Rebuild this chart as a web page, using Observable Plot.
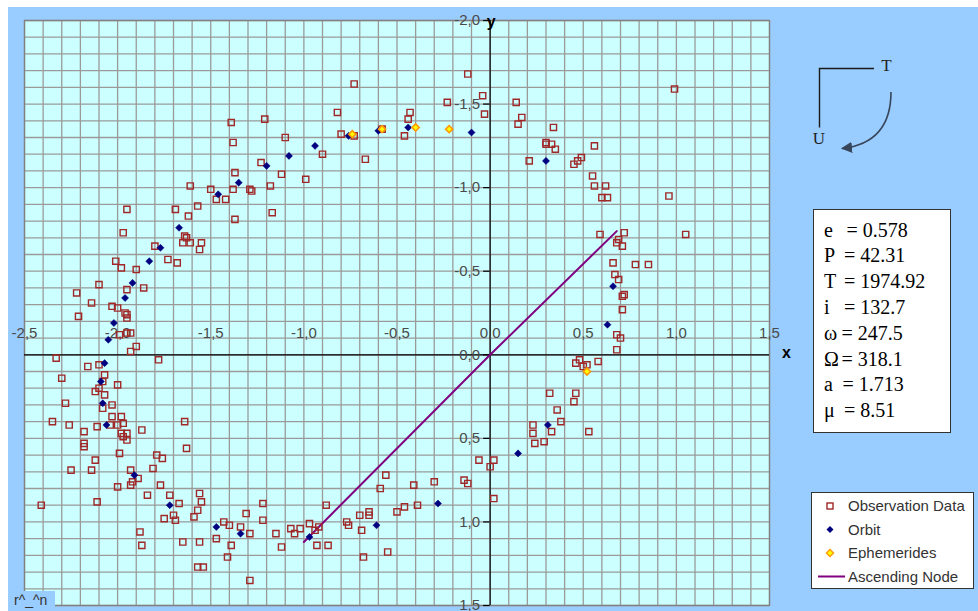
<!DOCTYPE html>
<html><head><meta charset="utf-8">
<script src="https://cdn.jsdelivr.net/npm/d3@7"></script>
<script src="https://cdn.jsdelivr.net/npm/@observablehq/plot@0.6"></script>
<style>
html,body{margin:0;padding:0;background:#fff;}
#bg{position:absolute;left:8px;top:7px;width:970px;height:604px;background:#99ccff;}
#chart{position:absolute;left:0;top:0;width:978px;height:611px;}
</style></head><body>
<div id="bg"></div>
<div id="chart"></div>
<script>
// ---- data ----
const observations = [
[-0.12,-1.68],[-0.73,-1.62],[-0.04,-1.55],[-0.23,-1.51],[-0.82,-1.45],[-0.43,-1.45],[-0.03,-1.44],[-1.39,-1.39],[-1.21,-1.41],[-0.44,-1.41],[-0.58,-1.35],[-0.80,-1.32],[-0.73,-1.31],[-0.46,-1.31],[-1.10,-1.30],[-1.38,-1.27],[-0.90,-1.20],[-0.67,-1.17],[-1.23,-1.15],[-1.37,-1.09],[-1.12,-1.08],[-0.99,-1.05],[-1.61,-1.01],[-1.50,-0.99],[-1.38,-0.99],[-1.29,-0.99],[-1.28,-0.98],[-1.18,-1.01],[-1.47,-0.93],[-1.42,-0.93],
[0.14,-1.51],[0.17,-1.42],[0.15,-1.38],[0.34,-1.36],[0.30,-1.27],[0.30,-1.26],[0.33,-1.26],[0.35,-1.23],[0.56,-1.25],[0.21,-1.16],[0.45,-1.14],[0.47,-1.16],[0.49,-1.18],[0.55,-1.07],[0.56,-1.01],[0.62,-1.01],[0.96,-0.95],[0.60,-0.94],[0.63,-0.94],[0.99,-1.59],
[-1.95,-0.87],[-1.69,-0.87],[-1.57,-0.89],[-1.17,-0.85],[-1.37,-0.81],[-1.62,-0.83],[-1.97,-0.73],[-1.64,-0.71],[-1.63,-0.70],[-1.65,-0.67],[-1.61,-0.67],[-1.55,-0.67],[-1.56,-0.63],[-1.80,-0.65],[-1.73,-0.57],[-1.68,-0.55],[-2.01,-0.56],[-1.98,-0.52],[-1.90,-0.51],[-2.10,-0.42],[-1.95,-0.39],[-1.86,-0.40],[-2.22,-0.37],[-2.14,-0.31],[-2.03,-0.29],[-2.00,-0.28],[-2.21,-0.23],[-1.96,-0.25],[-1.95,-0.24],[-1.95,-0.22],[-1.93,-0.13],[-1.95,-0.13],[-1.99,-0.12],[-1.90,-0.05],[-1.93,-0.02],[-2.33,0.02],[-1.78,0.03],[-2.16,0.07],[-2.10,0.06],[-2.30,0.14],[-2.07,0.12],[-2.00,0.18],[-2.08,0.16],[-2.10,0.20],[-2.12,0.22],[-2.07,0.24],
[-2.28,0.29],[-2.03,0.30],[-2.08,0.32],[-2.35,0.40],[-2.26,0.42],[-2.11,0.43],[-2.04,0.42],[-2.03,0.37],[-1.98,0.37],[-2.00,0.42],[-1.97,0.41],[-2.18,0.46],[-1.98,0.47],[-1.97,0.49],[-1.95,0.47],[-1.95,0.51],[-1.87,0.45],[-1.64,0.40],[-2.18,0.53],[-2.18,0.55],[-1.63,0.56],[-1.99,0.59],[-1.79,0.60],[-1.76,0.62],[-2.12,0.63],[-2.25,0.69],[-2.14,0.69],[-1.93,0.69],[-1.81,0.68],[-1.89,0.74],[-1.92,0.76],[-1.93,0.78],[-1.77,0.78],[-2.00,0.79],[-1.84,0.84],[-1.72,0.84],[-1.56,0.83],[-1.55,0.88],[-2.11,0.88],[-2.41,0.90],[-1.67,0.89],[-1.70,0.96],[-1.69,0.99],[-1.75,0.98],[-1.59,0.97],[-1.57,0.93],[-1.22,0.89],[-1.31,0.95],[-1.22,0.99],[-1.43,1.00],[-1.40,1.02],[-1.34,1.03],[-1.29,1.07],[-1.47,1.10],[-1.88,1.06],[-1.87,1.14],[-1.65,1.12],[-1.56,1.12],[-1.39,1.14],[-1.41,1.21],[-1.57,1.27],[-1.54,1.27],[-1.29,1.35],[-1.15,1.07],[-1.12,1.15],[-1.07,1.04],[-1.05,1.07],[-1.02,1.04],[-0.97,1.01],[-0.94,1.05],[-0.92,1.03],[-0.93,1.14],[-0.87,1.14],[-0.88,0.90],[-0.77,1.00],[-0.76,1.02],[-0.70,0.96],[-0.65,0.94],[-0.65,0.96],[-0.69,1.05],[-0.68,1.21],[-0.55,1.18],[-0.59,0.80],[-0.56,0.72],[-0.50,0.94],[-0.46,0.91],[-0.39,0.90],[-0.41,0.78],[-0.30,0.76],[-0.14,0.75],[-0.12,0.77],[-0.06,0.63],[0.00,0.67],[0.02,0.63],[0.02,0.86],
[0.59,-0.72],[0.72,-0.73],[0.69,-0.69],[0.68,-0.67],[0.71,-0.65],[1.05,-0.72],[0.66,-0.55],[0.78,-0.54],[0.85,-0.54],[0.67,-0.48],[0.69,-0.45],[0.72,-0.36],[0.71,-0.35],[0.71,-0.27],[0.68,-0.12],[0.70,-0.10],[0.68,-0.03],[0.48,0.03],[0.46,0.05],[0.50,0.07],[0.52,0.06],[0.58,0.04],[0.32,0.23],[0.46,0.23],[0.45,0.28],[0.36,0.33],[0.38,0.40],[0.23,0.42],[0.23,0.47],[0.33,0.46],[0.53,0.46],[0.24,0.53],[0.29,0.52]
];
const orbit = [
[-0.10,-1.33],[-0.44,-1.36],[-0.60,-1.34],[-0.76,-1.31],[-0.94,-1.25],[-1.08,-1.19],[-1.20,-1.13],[-1.35,-1.03],[-1.46,-0.96],[-1.67,-0.76],[-1.77,-0.64],[-1.83,-0.56],[-1.92,-0.43],[-1.96,-0.34],[-2.02,-0.19],[-2.05,-0.09],[-2.07,0.05],[-2.09,0.16],[-2.08,0.29],[-2.06,0.42],[-1.91,0.72],[-1.72,0.90],[-1.47,1.03],[-1.34,1.07],[-0.97,1.09],[-0.61,1.02],[-0.28,0.89],[0.15,0.59],[0.31,0.42],[0.63,-0.18],[0.66,-0.41],[0.30,-1.16]
];
const ephemerides = [[-0.74,-1.32],[-0.58,-1.35],[-0.40,-1.36],[-0.22,-1.35],[0.52,0.10]];
const ascendingNode = [[-1.00,1.12],[0.00,0.00],[0.68,-0.74]];
const xTicks = [-2.5,-2.0,-1.5,-1.0,-0.5,0.0,0.5,1.0,1.5];
const yTicks = [-2.0,-1.5,-1.0,-0.5,0.0,0.5,1.0,1.5];
const paramNames = ["e","P","T","i","ω","Ω","a","μ"];
const paramValues = ["0.578","42.31","1974.92","132.7","247.5","318.1","1.713","8.51"];
const legendLabels = ["Observation Data","Orbit","Ephemerides","Ascending Node"];

// ---- chart ----
const gridX = d3.range(-25, 16).map(i => i / 10);
const gridY = d3.range(-20, 16).map(i => i / 10);
const fmt = d => d.toFixed(1).replace(".", ",");
const OBS = "#a02828", ORB = "#000080", EPH_S = "#ff9900", EPH_F = "#ffff00", NODE = "#800080";

const plot = Plot.plot({
  width: 978, height: 611,
  marginLeft: 24, marginRight: 209, marginTop: 20, marginBottom: 6,
  style: {background: "transparent", fontFamily: "Arial, 'Liberation Sans', sans-serif"},
  x: {domain: [-2.5, 1.5], axis: null},
  y: {domain: [-2.0, 1.5], reverse: true, axis: null},
  marks: [
    Plot.frame({fill: "#ccffff"}),
    Plot.ruleX(gridX, {stroke: "#9a9a9a", strokeWidth: 1.3}),
    Plot.ruleY(gridY, {stroke: "#9a9a9a", strokeWidth: 1.3}),
    Plot.frame({stroke: "#808080", strokeWidth: 1.3}),
    Plot.ruleX([0], {stroke: "#000", strokeWidth: 1.2}),
    Plot.ruleY([0], {stroke: "#000", strokeWidth: 1.2}),
    Plot.ruleY(yTicks, {x1: 0, x2: -0.035, stroke: "#000", strokeWidth: 1.2}),
    Plot.text(xTicks, {x: d => d, y: 0, text: fmt, dy: -22, fontSize: 15, fill: "#4a4a4a"}),
    Plot.text(yTicks, {x: 0, y: d => d, text: fmt, dx: -10, textAnchor: "end", fontSize: 15, fill: "#4a4a4a"}),
    Plot.text(["x"], {x: 1.5, y: 0, dx: 17, dy: -2, fontSize: 16, fontWeight: "bold", fill: "#000"}),
    Plot.text(["y"], {x: 0, y: -2.0, dx: 1, dy: 1, fontSize: 16, fontWeight: "bold", fill: "#000"}),
    Plot.line(ascendingNode, {x: d => d[0], y: d => d[1], stroke: NODE, strokeWidth: 2}),
    Plot.dot(observations, {x: d => d[0], y: d => d[1], symbol: "square", r: 3.5, stroke: OBS, strokeWidth: 1.4, fill: "none"}),
    Plot.dot(orbit, {x: d => d[0], y: d => d[1], symbol: "diamond2", r: 3.2, fill: ORB, stroke: ORB, strokeWidth: 0.5}),
    Plot.dot(ephemerides, {x: d => d[0], y: d => d[1], symbol: "diamond2", r: 3.2, fill: EPH_F, stroke: EPH_S, strokeWidth: 1.6})
  ]
});
document.getElementById("chart").appendChild(plot);

// ---- annotations: T/U sketch, parameter box, legend, corner label ----
const svg = d3.select(plot);
svg.append("defs").html('<marker id="ah" viewBox="0 0 10 10" refX="9" refY="5" markerWidth="7" markerHeight="7" orient="auto"><path d="M0,0L10,5L0,10z" fill="#37465a"/></marker>');
const g = svg.append("g").attr("text-anchor", "start");
g.append("path").attr("d", "M874,68.5H819.5V127.5").attr("fill", "none").attr("stroke", "#1a1a1a").attr("stroke-width", 1.4);
g.append("text").attr("x", 886.5).attr("y", 71).attr("text-anchor", "middle").attr("font-family", "'Liberation Serif', serif").attr("font-size", 17).attr("fill", "#222").text("T");
g.append("text").attr("x", 819).attr("y", 144).attr("text-anchor", "middle").attr("font-family", "'Liberation Serif', serif").attr("font-size", 17).attr("fill", "#222").text("U");
g.append("path").attr("d", "M891,92 Q891,143 842,148.5").attr("fill", "none").attr("stroke", "#37465a").attr("stroke-width", 1.6).attr("marker-end", "url(#ah)");

// parameter box
g.append("rect").attr("x", 813.5).attr("y", 209.5).attr("width", 137).attr("height", 223).attr("fill", "#fff").attr("stroke", "#333").attr("stroke-width", 1);
const eqX = [846.5, 844, 844, 844, 841.5, 841.5, 842.5, 844];
paramNames.forEach((n, i) => {
  const y = 229.5 + i * 25.8;
  g.append("text").attr("x", 824).attr("y", y).attr("dy", "0.35em").attr("text-anchor", "start").attr("font-family", "'Liberation Serif', 'Times New Roman', serif").attr("font-size", 20).attr("fill", "#000").text(n);
  g.append("text").attr("x", eqX[i]).attr("y", y).attr("dy", "0.35em").attr("text-anchor", "start").attr("font-family", "'Liberation Serif', 'Times New Roman', serif").attr("font-size", 20).attr("fill", "#000").style("white-space", "pre").text("= " + paramValues[i]);
});

// legend
g.append("rect").attr("x", 811.5).attr("y", 492.5).attr("width", 162).attr("height", 96).attr("fill", "#fff").attr("stroke", "#333").attr("stroke-width", 1);
const ly = [506, 529.5, 553, 576.5];
legendLabels.forEach((t, i) => {
  g.append("text").attr("x", 848).attr("y", ly[i]).attr("dy", "0.36em").attr("text-anchor", "start").attr("font-family", "Arial, 'Liberation Sans', sans-serif").attr("font-size", 15).attr("fill", "#333").text(t);
});
g.append("rect").attr("x", 827).attr("y", 503).attr("width", 6).attr("height", 6).attr("fill", "none").attr("stroke", OBS).attr("stroke-width", 1.4);
g.append("path").attr("d", "M830,526L833.5,529.5L830,533L826.5,529.5Z").attr("fill", ORB);
g.append("path").attr("d", "M830,549.5L833.5,553L830,556.5L826.5,553Z").attr("fill", EPH_F).attr("stroke", EPH_S).attr("stroke-width", 1.4);
g.append("line").attr("x1", 818).attr("x2", 845).attr("y1", 576.5).attr("y2", 576.5).attr("stroke", NODE).attr("stroke-width", 2);

// corner label
g.append("rect").attr("x", 8).attr("y", 591).attr("width", 47).attr("height", 20).attr("fill", "#99ccff");
g.append("text").attr("x", 14).attr("y", 605).attr("text-anchor", "start").attr("font-family", "Arial, 'Liberation Sans', sans-serif").attr("font-size", 14).attr("fill", "#333").text("r^_^n");
</script>
</body></html>
